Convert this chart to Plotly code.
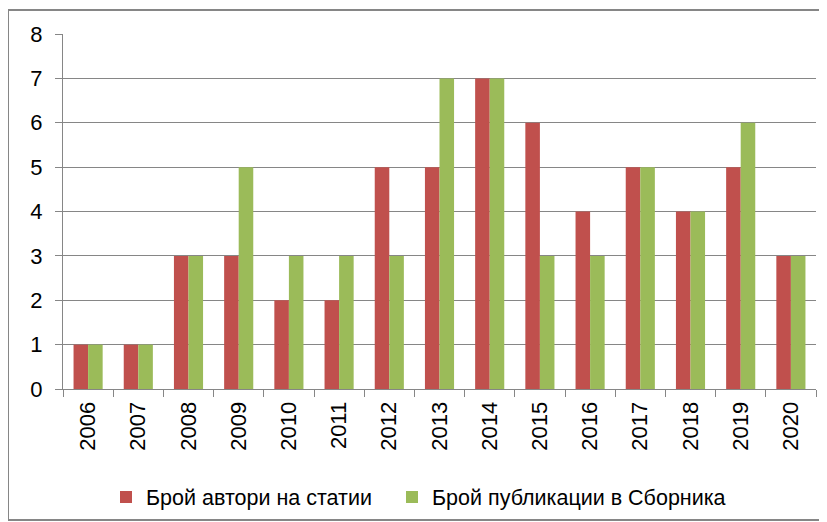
import plotly.graph_objects as go

years = ["2006", "2007", "2008", "2009", "2010", "2011", "2012", "2013",
         "2014", "2015", "2016", "2017", "2018", "2019", "2020"]
authors = [1, 1, 3, 3, 2, 2, 5, 5, 7, 6, 4, 5, 4, 5, 3]
publications = [1, 1, 3, 5, 3, 3, 3, 7, 7, 3, 3, 5, 4, 6, 3]
series_names = ["Брой автори на статии", "Брой публикации в Сборника"]
y_ticks = [0, 1, 2, 3, 4, 5, 6, 7, 8]

RED = "#C0504D"
GREEN = "#9BBB59"
FONT = "Liberation Sans, Arial, sans-serif"
GRAY = "#868686"

fig = go.Figure()
fig.add_trace(go.Bar(x=years, y=authors, name=series_names[0], marker_color=RED,
                     marker_line_width=0, legend="legend"))
fig.add_trace(go.Bar(x=years, y=publications, name=series_names[1], marker_color=GREEN,
                     marker_line_width=0, legend="legend2"))

# page has an 8px body margin; figure coordinates = page coordinates - 8
OFF = 8
W, H = 819, 514
ml, mr, mt, mb = 63 - OFF, 11, 34 - OFF, 133
pw, ph = W - ml - mr, H - mt - mb

def px_x(x):
    return (x - OFF - ml) / pw

def px_y(y):
    return (H - mb - (y - OFF)) / ph

leg_common = dict(orientation="h", yanchor="middle", xanchor="left",
                  font=dict(size=21.5), itemwidth=30, bgcolor="rgba(0,0,0,0)")

fig.update_layout(
    width=W, height=H,
    margin=dict(l=ml, r=mr, t=mt, b=mb, autoexpand=False),
    paper_bgcolor="white", plot_bgcolor="white",
    barmode="group", bargap=0.42, bargroupgap=0,
    font=dict(family=FONT, size=22, color="black"),
    showlegend=True,
    legend=dict(x=px_x(106), y=px_y(497), **leg_common),
    legend2=dict(x=px_x(392), y=px_y(497), **leg_common),
    xaxis=dict(type="category", showline=True, linecolor=GRAY, linewidth=1,
               ticks="outside", ticklen=7, tickcolor=GRAY, tickson="boundaries",
               tickangle=-90, showgrid=False, tickfont=dict(size=22), automargin=False,
               ticklabelstandoff=3),
    yaxis=dict(range=[0, 8], tickvals=y_ticks, showline=True, linecolor=GRAY,
               linewidth=1, ticks="outside", ticklen=7, tickcolor=GRAY,
               showgrid=True, gridcolor=GRAY, gridwidth=1, zeroline=False,
               tickfont=dict(size=22), automargin=False, ticklabelstandoff=8),
    shapes=[dict(type="rect", xref="paper", yref="paper",
                 x0=px_x(8), x1=px_x(824), y0=px_y(520), y1=px_y(10),
                 line=dict(color=GRAY, width=2), fillcolor="rgba(0,0,0,0)")],
)

fig.write_html("out.html")
